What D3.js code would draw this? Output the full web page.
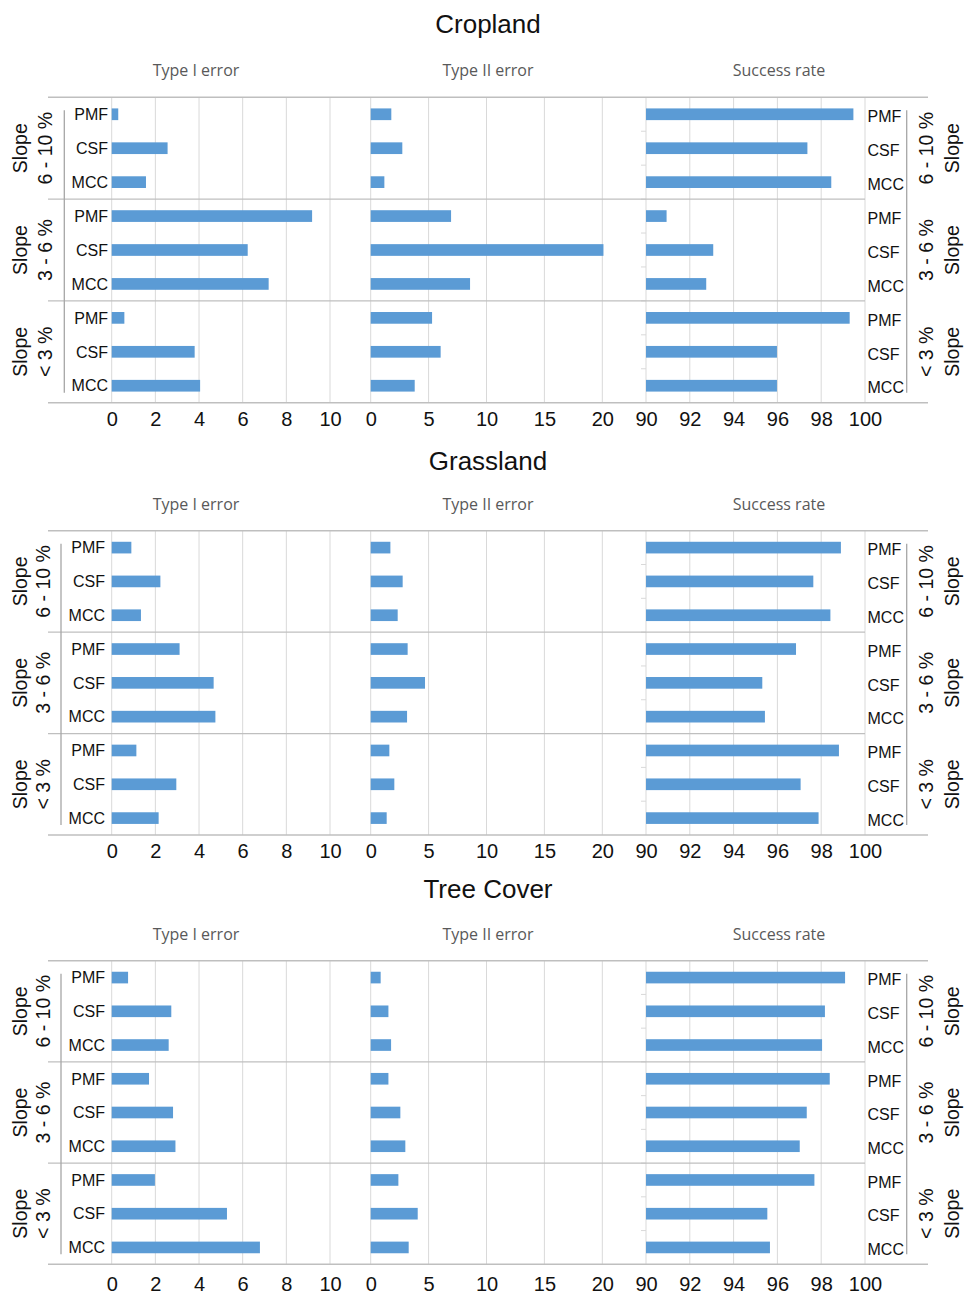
<!DOCTYPE html>
<html>
<head>
<meta charset="utf-8">
<script src="https://cdn.jsdelivr.net/npm/d3@7"></script>
<style>
  html, body { margin: 0; padding: 0; background: #fff; }
  svg { display: block; }
</style>
</head>
<body>
<svg id="chart" width="969" height="1298"></svg>
<script>
// ---- data -------------------------------------------------------------
const landCovers = ["Cropland", "Grassland", "Tree Cover"];
const metrics = ["Type I error", "Type II error", "Success rate"];
const slopeClasses = ["6 - 10 %", "3 - 6 %", "< 3 %"];
const methods = ["PMF", "CSF", "MCC"];

// values listed slope class by slope class (6-10 %, 3-6 %, < 3 %), PMF / CSF / MCC
const croplandTypeI    = [0.3, 2.56, 1.57,  9.18, 6.23, 7.19,  0.58, 3.8, 4.05];
const croplandTypeII   = [1.78, 2.73, 1.18, 6.94, 20.1, 8.58,  5.3, 6.04, 3.8];
const croplandSuccess  = [99.47, 97.37, 98.46, 90.94, 93.07, 92.75, 99.3, 95.98, 95.98];

const grasslandTypeI   = [0.9, 2.23, 1.34,  3.11, 4.67, 4.75,  1.13, 2.96, 2.15];
const grasslandTypeII  = [1.7, 2.76, 2.33,  3.19, 4.69, 3.14,  1.61, 2.04, 1.38];
const grasslandSuccess = [98.9, 97.64, 98.42, 96.85, 95.31, 95.43, 98.81, 97.06, 97.88];

const treeTypeI        = [0.75, 2.73, 2.61, 1.71, 2.81, 2.92, 1.98, 5.28, 6.79];
const treeTypeII       = [0.86, 1.53, 1.76, 1.53, 2.56, 2.99, 2.39, 4.06, 3.28];
const treeSuccess      = [99.09, 98.17, 98.04, 98.39, 97.34, 97.02, 97.69, 95.54, 95.66];

const typeITicks = [0, 2, 4, 6, 8, 10];
const typeIITicks = [0, 5, 10, 15, 20];
const successTicks = [90, 92, 94, 96, 98, 100];

const seriesByCover = [
  [croplandTypeI, croplandTypeII, croplandSuccess],
  [grasslandTypeI, grasslandTypeII, grasslandSuccess],
  [treeTypeI, treeTypeII, treeSuccess]
];

// ---- layout -----------------------------------------------------------
const panels = [
  { top: 97.3,  bottom: 402.7,  titleY: 33,  tickY: 23, labelRight: 108, bracketX: 64.3, slopeX: [20, 45] },
  { top: 530.7, bottom: 835,    titleY: 470, tickY: 23, labelRight: 105, bracketX: 61,   slopeX: [20, 43] },
  { top: 960.7, bottom: 1264.3, titleY: 898, tickY: 27, labelRight: 105, bracketX: 61,   slopeX: [20, 43] }
];

const xScales = [
  d3.scaleLinear().domain([0, 10]).range([111.7, 330]),
  d3.scaleLinear().domain([0, 20]).range([370.7, 602.3]),
  d3.scaleLinear().domain([90, 100]).range([646, 865])
];
const tickSets = [typeITicks, typeIITicks, successTicks];
const headerX = [196, 488, 779];

const barColor = "#5b9bd5";
const gridColor = "#d9d9d9";
const lineColor = "#bfbfbf";
const sans = "'Liberation Sans', Arial, sans-serif";

const svg = d3.select("#chart");

panels.forEach((p, pi) => {
  const g = svg.append("g");
  const keys = [];
  slopeClasses.forEach(s => methods.forEach(m => keys.push(s + "|" + m)));

  const y = d3.scaleBand().domain(keys).range([p.top, p.bottom])
    .paddingInner(0.655).paddingOuter(0.3275);
  const gy = d3.scaleBand().domain(slopeClasses).range([p.top, p.bottom]);

  // land-cover title
  g.append("text")
    .attr("x", 488).attr("y", p.titleY)
    .attr("text-anchor", "middle")
    .style("font-family", sans).style("font-size", "26px").style("fill", "#111")
    .text(landCovers[pi]);

  // metric headers
  metrics.forEach((m, mi) => {
    g.append("text")
      .attr("x", headerX[mi]).attr("y", p.top - 21)
      .attr("text-anchor", "middle")
      .style("font-family", "'Open Sans', sans-serif").style("font-size", "16px")
      .style("fill", "#595959")
      .text(m);
  });

  // vertical gridlines
  xScales.forEach((x, mi) => {
    g.append("g").selectAll("line").data(tickSets[mi]).join("line")
      .attr("x1", d => x(d)).attr("x2", d => x(d))
      .attr("y1", p.top).attr("y2", p.bottom)
      .attr("stroke", gridColor).attr("stroke-width", 1);
  });

  // small category ticks on the success-rate axis
  const bounds = d3.range(1, keys.length).map(i => y(keys[i]) - y.step() * y.paddingInner() / 2);
  g.append("g").selectAll("line").data(bounds).join("line")
    .attr("x1", 641).attr("x2", 646)
    .attr("y1", d => d).attr("y2", d => d)
    .attr("stroke", gridColor).attr("stroke-width", 1);

  // slope-class separators
  g.append("g").selectAll("line").data(slopeClasses.slice(1)).join("line")
    .attr("x1", 48).attr("x2", 865)
    .attr("y1", d => gy(d)).attr("y2", d => gy(d))
    .attr("stroke", lineColor).attr("stroke-width", 1.3);

  // top and bottom frame lines
  [p.top, p.bottom].forEach(yy => {
    g.append("line")
      .attr("x1", 48).attr("x2", 928).attr("y1", yy).attr("y2", yy)
      .attr("stroke", lineColor).attr("stroke-width", 1.5);
  });

  // bars
  xScales.forEach((x, mi) => {
    const vals = seriesByCover[pi][mi];
    const base = x.domain()[0];
    g.append("g").selectAll("rect").data(keys).join("rect")
      .attr("x", x(base))
      .attr("y", k => y(k))
      .attr("width", (k, i) => x(vals[i]) - x(base))
      .attr("height", y.bandwidth())
      .attr("fill", barColor);
  });

  // bottom axes
  xScales.forEach((x, mi) => {
    const ax = g.append("g")
      .attr("transform", `translate(0,${p.bottom})`)
      .call(d3.axisBottom(x).tickValues(tickSets[mi]).tickSize(0).tickPadding(8).tickFormat(d3.format("d")));
    ax.select(".domain").remove();
    ax.selectAll("text")
      .attr("y", p.tickY).attr("dy", 0)
      .style("font-family", sans).style("font-size", "20px").style("fill", "#111");
  });

  // method labels, left and right
  g.append("g").selectAll("text").data(keys).join("text")
    .attr("x", p.labelRight)
    .attr("y", k => y(k) + y.bandwidth() / 2)
    .attr("dy", "0.36em")
    .attr("text-anchor", "end")
    .style("font-family", sans).style("font-size", "16px").style("fill", "#111")
    .text(k => k.split("|")[1]);

  g.append("g").selectAll("text").data(keys).join("text")
    .attr("x", 867.5)
    .attr("y", k => y(k) + y.bandwidth() / 2 + 2)
    .attr("dy", "0.36em")
    .attr("text-anchor", "start")
    .style("font-family", sans).style("font-size", "16px").style("fill", "#111")
    .text(k => k.split("|")[1]);

  // category-level divider lines
  [p.bracketX, 906.7].forEach(bx => {
    g.append("line")
      .attr("x1", bx).attr("x2", bx)
      .attr("y1", p.top + 13).attr("y2", p.bottom - 10)
      .attr("stroke", "#a6a6a6").attr("stroke-width", 1.3);
  });

  // slope-class labels (rotated)
  slopeClasses.forEach(s => {
    const cy = gy(s) + gy.bandwidth() / 2;
    const lab = [
      { x: p.slopeX[0], t: "Slope" },
      { x: p.slopeX[1], t: s },
      { x: 925.7, t: s },
      { x: 951.7, t: "Slope" }
    ];
    lab.forEach(l => {
      g.append("text")
        .attr("transform", `translate(${l.x},${cy}) rotate(-90)`)
        .attr("text-anchor", "middle")
        .attr("dy", "0.36em")
        .style("font-family", sans).style("font-size", "19.5px").style("fill", "#111")
        .text(l.t);
    });
  });
});
</script>
</body>
</html>
